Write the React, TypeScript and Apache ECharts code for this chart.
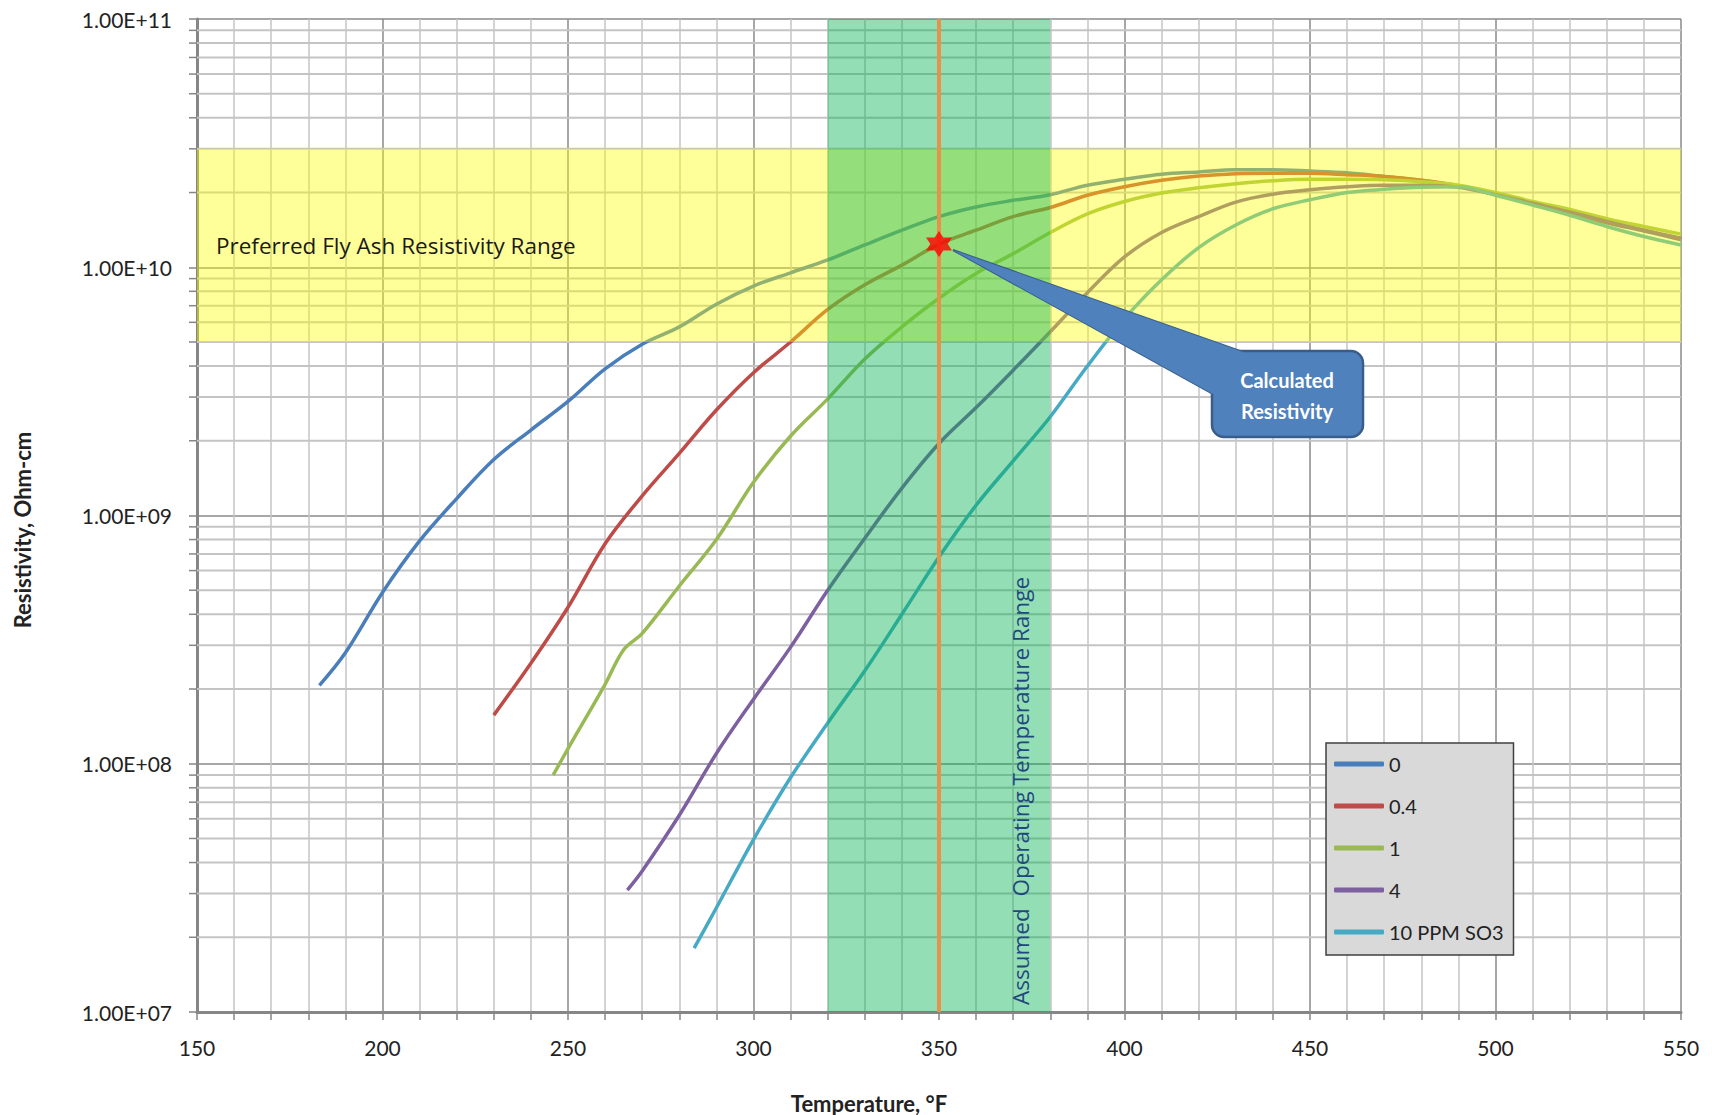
import React, { useEffect, useRef } from 'react';
import * as echarts from 'echarts';

// ---------- data ----------
const seriesNames = ['0', '0.4', '1', '4', '10 PPM SO3'];
const seriesColors = ['#4A7EBB', '#BE4B48', '#98B954', '#7D60A0', '#46AAC5'];

const temps0 = [183, 190, 200, 210, 220, 230, 240, 250, 260, 270, 280, 290, 300, 310, 320, 330, 340, 350, 360, 370, 380, 390, 400, 410, 420, 430, 440, 450, 460, 470, 480, 490, 500, 510, 520, 530, 540, 550];
const res0 = [2.07e8, 2.8e8, 4.9e8, 7.9e8, 1.17e9, 1.68e9, 2.21e9, 2.88e9, 3.9e9, 4.9e9, 5.75e9, 7.1e9, 8.4e9, 9.5e9, 1.07e10, 1.23e10, 1.41e10, 1.6e10, 1.75e10, 1.86e10, 1.96e10, 2.14e10, 2.26e10, 2.37e10, 2.42e10, 2.47e10, 2.47e10, 2.44e10, 2.4e10, 2.32e10, 2.24e10, 2.12e10, 1.97e10, 1.8e10, 1.66e10, 1.51e10, 1.4e10, 1.29e10];

const temps04 = [230, 240, 250, 260, 270, 280, 290, 300, 310, 320, 330, 340, 350, 360, 370, 380, 390, 400, 410, 420, 430, 440, 450, 460, 470, 480, 490, 500, 510, 520, 530, 540, 550];
const res04 = [1.57e8, 2.54e8, 4.27e8, 7.7e8, 1.2e9, 1.78e9, 2.66e9, 3.76e9, 5.0e9, 6.76e9, 8.5e9, 1.02e10, 1.24e10, 1.41e10, 1.6e10, 1.74e10, 1.95e10, 2.11e10, 2.24e10, 2.33e10, 2.38e10, 2.39e10, 2.39e10, 2.36e10, 2.32e10, 2.24e10, 2.13e10, 1.98e10, 1.81e10, 1.67e10, 1.52e10, 1.41e10, 1.3e10];

const temps1 = [246, 250, 260, 265, 270, 280, 290, 300, 310, 320, 330, 340, 350, 360, 370, 380, 390, 400, 410, 420, 430, 440, 450, 460, 470, 480, 490, 500, 510, 520, 530, 540, 550];
const res1 = [9.0e7, 1.15e8, 2.09e8, 2.88e8, 3.35e8, 5.2e8, 8.0e8, 1.36e9, 2.09e9, 2.95e9, 4.27e9, 5.75e9, 7.5e9, 9.44e9, 1.135e10, 1.38e10, 1.64e10, 1.84e10, 1.99e10, 2.09e10, 2.17e10, 2.23e10, 2.26e10, 2.26e10, 2.25e10, 2.21e10, 2.14e10, 2.0e10, 1.84e10, 1.71e10, 1.57e10, 1.46e10, 1.36e10];

const temps4 = [266, 270, 280, 290, 300, 310, 320, 330, 340, 350, 360, 370, 380, 390, 400, 410, 420, 430, 440, 450, 460, 470, 480, 490, 500, 510, 520, 530, 540, 550];
const res4 = [3.1e7, 3.7e7, 6.2e7, 1.1e8, 1.82e8, 2.95e8, 5.0e8, 8.1e8, 1.29e9, 1.95e9, 2.72e9, 3.85e9, 5.5e9, 7.9e9, 1.1e10, 1.38e10, 1.6e10, 1.83e10, 1.97e10, 2.05e10, 2.11e10, 2.14e10, 2.14e10, 2.1e10, 1.96e10, 1.81e10, 1.67e10, 1.53e10, 1.41e10, 1.31e10];

const temps10 = [284, 290, 300, 310, 320, 330, 340, 350, 360, 370, 380, 390, 400, 410, 420, 430, 440, 450, 460, 470, 480, 490, 500, 510, 520, 530, 540, 550];
const res10 = [1.81e7, 2.63e7, 4.95e7, 8.8e7, 1.46e8, 2.37e8, 4.0e8, 6.8e8, 1.1e9, 1.66e9, 2.5e9, 4.0e9, 6.2e9, 8.9e9, 1.2e10, 1.48e10, 1.72e10, 1.87e10, 2.0e10, 2.06e10, 2.1e10, 2.11e10, 1.95e10, 1.78e10, 1.62e10, 1.46e10, 1.33e10, 1.23e10];

const allTemps = [temps0, temps04, temps1, temps4, temps10];
const allRes = [res0, res04, res1, res4, res10];

const yMinorTicks = [
  2e7, 3e7, 4e7, 5e7, 6e7, 7e7, 8e7, 9e7,
  2e8, 3e8, 4e8, 5e8, 6e8, 7e8, 8e8, 9e8,
  2e9, 3e9, 4e9, 5e9, 6e9, 7e9, 8e9, 9e9,
  2e10, 3e10, 4e10, 5e10, 6e10, 7e10, 8e10, 9e10,
];

// bands: [xFrom, yFrom, xTo, yTo]
const preferredBand = [150, 5e9, 550, 3e10];
const operatingBand = [320, 1e7, 380, 1e11];
const operatingLine = [350, 1e7, 350, 1e11];
const calculatedPoint = [350, 1.24e10];

const FONT = 'Lato, "Liberation Sans", sans-serif';
const FONT2 = '"Open Sans", Lato, sans-serif';
const STAR = 'path://M50 0 L64.4 25 L93.3 25 L78.9 50 L93.3 75 L64.4 75 L50 100 L35.6 75 L6.7 75 L21.1 50 L6.7 25 L35.6 25 Z';

function bandSeries(name: string, band: number[], color: string, z: number) {
  return {
    type: 'custom',
    name,
    silent: true,
    z,
    clip: true,
    data: [band],
    encode: { x: [0, 2], y: [1, 3] },
    renderItem: (_p: any, api: any) => {
      const a = api.coord([api.value(0), api.value(3)]);
      const b = api.coord([api.value(2), api.value(1)]);
      return {
        type: 'rect',
        shape: { x: a[0], y: a[1], width: b[0] - a[0], height: b[1] - a[1] },
        style: { fill: color },
      };
    },
  };
}

export default function App() {
  const ref = useRef<HTMLDivElement>(null);

  useEffect(() => {
    document.body.style.margin = '0';
    const chart = echarts.init(ref.current as HTMLDivElement, null, { renderer: 'svg' });

    const lineSeries = seriesNames.map((name, i) => ({
      name,
      type: 'line',
      data: allTemps[i].map((t, j) => [t, allRes[i][j]]),
      showSymbol: false,
      symbol: 'none',
      smooth: 0.35,
      z: 3,
      silent: true,
      lineStyle: { color: seriesColors[i], width: 3.5 },
      itemStyle: { color: seriesColors[i] },
    }));

    const option: any = {
      animation: false,
      textStyle: { fontFamily: FONT },
      grid: { left: 197, right: 31, top: 19, bottom: 103, containLabel: false },
      xAxis: {
        type: 'value',
        min: 150,
        max: 550,
        interval: 50,
        axisLine: { show: true, lineStyle: { color: '#868686', width: 3 } },
        axisTick: { show: true, length: 8, lineStyle: { color: '#868686', width: 1.5 } },
        minorTick: { show: true, splitNumber: 5, length: 8, lineStyle: { color: '#868686', width: 1.5 } },
        axisLabel: { fontSize: 21, color: '#222', margin: 25, fontFamily: FONT },
        splitLine: { show: true, lineStyle: { color: '#8a8a8a', width: 1.5 } },
        minorSplitLine: { show: true, lineStyle: { color: '#c4c4c4', width: 1.5 } },
      },
      yAxis: {
        type: 'log',
        logBase: 10,
        min: 1e7,
        max: 1e11,
        axisLine: { show: true, lineStyle: { color: '#868686', width: 3 } },
        axisTick: { show: true, length: 8, lineStyle: { color: '#868686', width: 1.5 } },
        axisLabel: {
          fontSize: 21,
          color: '#222',
          margin: 25,
          fontFamily: FONT,
          formatter: (v: number) => {
            const e = Math.round(Math.log10(v));
            return '1.00E+' + (e < 10 ? '0' + e : String(e));
          },
        },
        splitLine: { show: true, lineStyle: { color: '#8a8a8a', width: 1.5 } },
      },
      legend: {
        data: seriesNames,
        orient: 'vertical',
        left: 1326,
        top: 743,
        backgroundColor: '#D9D9D9',
        borderColor: '#404040',
        borderWidth: 1.5,
        padding: [11, 10, 13, 8],
        itemGap: 22,
        itemWidth: 50,
        itemHeight: 5,
        itemTextGap: 4,
        icon: 'roundRect',
        selectedMode: false,
        textStyle: { fontSize: 20, color: '#222', fontFamily: FONT, lineHeight: 20 },
      },
      series: [
        {
          type: 'custom',
          name: 'ygrid',
          silent: true,
          z: 1,
          clip: false,
          data: yMinorTicks.map((v) => [150, v]),
          encode: { x: 0, y: 1 },
          renderItem: (_params: any, api: any) => {
            const v = api.value(1);
            const a = api.coord([150, v]);
            const b = api.coord([550, v]);
            return {
              type: 'group',
              children: [
                { type: 'line', shape: { x1: a[0], y1: a[1], x2: b[0], y2: b[1] }, style: { stroke: '#c4c4c4', lineWidth: 2 } },
                { type: 'line', shape: { x1: a[0] - 8, y1: a[1], x2: a[0], y2: a[1] }, style: { stroke: '#868686', lineWidth: 1.5 } },
              ],
            };
          },
        },
        ...lineSeries,
        bandSeries('yellowBand', preferredBand, 'rgba(255,255,0,0.4)', 5),
        bandSeries('greenBand', operatingBand, 'rgba(0,176,80,0.42)', 6),
        {
          type: 'custom',
          name: 'opLine',
          silent: true,
          z: 7,
          clip: true,
          data: [operatingLine],
          encode: { x: [0, 2], y: [1, 3] },
          renderItem: (_p: any, api: any) => {
            const a = api.coord([api.value(0), api.value(1)]);
            const b = api.coord([api.value(2), api.value(3)]);
            return {
              type: 'line',
              shape: { x1: a[0], y1: a[1], x2: b[0], y2: b[1] },
              style: { stroke: '#E8914A', lineWidth: 4 },
            };
          },
        },
        {
          type: 'scatter',
          name: 'calc',
          z: 9,
          silent: true,
          symbol: STAR,
          symbolSize: 26,
          itemStyle: { color: '#FF0000' },
          data: [calculatedPoint],
        },
      ],
    };
    chart.setOption(option);

    const sp = chart.convertToPixel({ gridIndex: 0 }, calculatedPoint) as number[];
    const tip = [sp[0] + 14, sp[1] + 6];
    const wedge = [tip, [1243, 352], [1213, 394]];

    chart.setOption({
      graphic: [
        {
          type: 'text',
          x: 216,
          y: 245,
          z: 20,
          style: { text: 'Preferred Fly Ash Resistivity Range', fontSize: 22.5, fill: '#1a1a1a', fontFamily: FONT2, textAlign: 'left', textVerticalAlign: 'middle' },
        },
        {
          type: 'text',
          x: 1020,
          y: 791,
          z: 20,
          rotation: Math.PI / 2,
          style: { text: 'Assumed  Operating Temperature Range', fontSize: 22.5, fill: '#1F497D', fontFamily: FONT2, textAlign: 'center', textVerticalAlign: 'middle' },
        },
        {
          type: 'text',
          x: 22,
          y: 530,
          z: 20,
          rotation: Math.PI / 2,
          style: { text: 'Resistivity, Ohm-cm', fontSize: 22, fontWeight: 'bold', fill: '#222', fontFamily: FONT, textAlign: 'center', textVerticalAlign: 'middle' },
        },
        {
          type: 'text',
          x: 869,
          y: 1103,
          z: 20,
          style: { text: 'Temperature, °F', fontSize: 22, fontWeight: 'bold', fill: '#222', fontFamily: FONT, textAlign: 'center', textVerticalAlign: 'middle' },
        },
        {
          type: 'polygon',
          z: 21,
          shape: { points: wedge },
          style: { fill: '#4F81BD', stroke: '#385D8A', lineWidth: 2 },
        },
        {
          type: 'rect',
          z: 22,
          shape: { x: 1212, y: 351, width: 151, height: 86, r: 12 },
          style: { fill: '#4F81BD', stroke: '#385D8A', lineWidth: 2.5 },
        },
        {
          type: 'polygon',
          z: 23,
          shape: { points: wedge },
          style: { fill: '#4F81BD' },
        },
        {
          type: 'text',
          x: 1287,
          y: 395,
          z: 24,
          style: { text: 'Calculated\nResistivity', fontSize: 20, fontWeight: 'bold', fill: '#FFFFFF', fontFamily: FONT, textAlign: 'center', textVerticalAlign: 'middle', lineHeight: 31 },
        },
      ],
    });

    return () => {
      chart.dispose();
    };
  }, []);

  return <div ref={ref} style={{ width: 1712, height: 1115 }} />;
}
